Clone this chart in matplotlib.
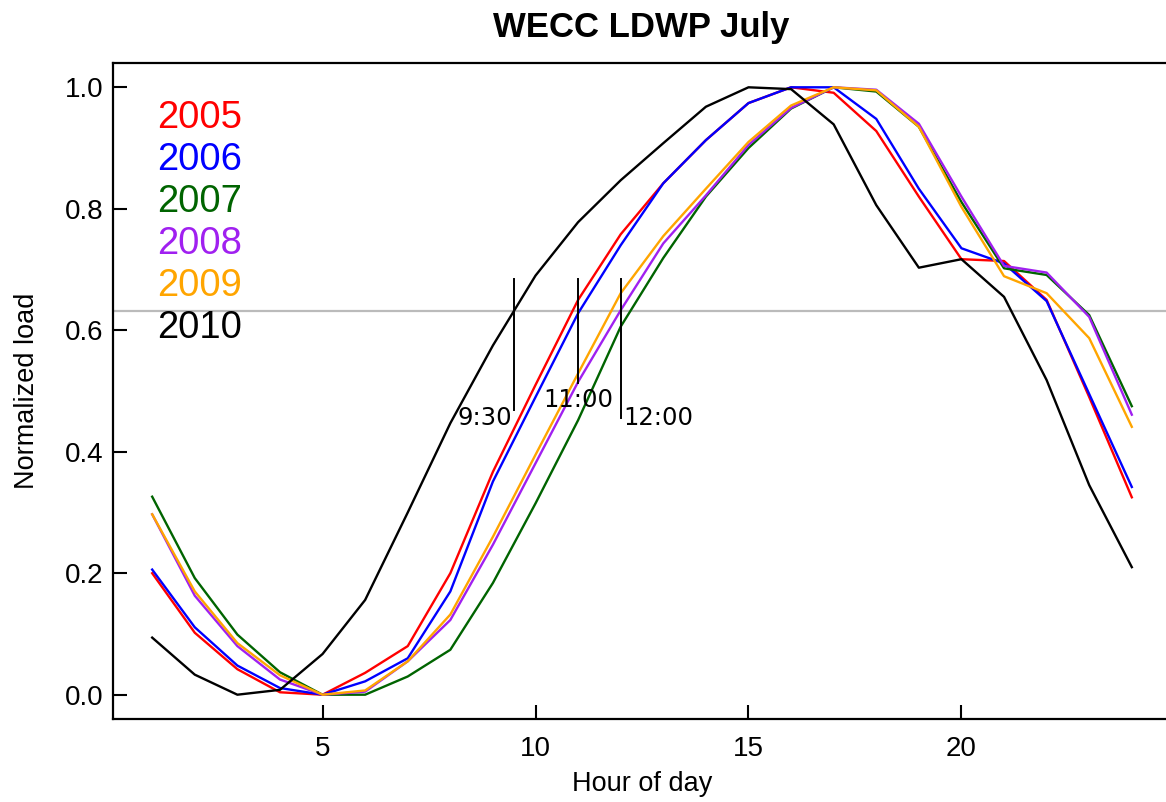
import numpy as np
import matplotlib
matplotlib.use('Agg')
import matplotlib.pyplot as plt

plt.rcParams['font.family'] = ['Liberation Sans', 'DejaVu Sans']

# Horas del dia
horas = np.arange(1, 25)

# Carga normalizada por año
carga_2005 = [0.200, 0.102, 0.042, 0.004, 0.000, 0.036, 0.080, 0.200, 0.367, 0.510, 0.650, 0.758,
              0.842, 0.913, 0.974, 1.000, 0.991, 0.928, 0.820, 0.717, 0.714, 0.650, 0.490, 0.325]
carga_2006 = [0.206, 0.111, 0.048, 0.011, 0.000, 0.022, 0.060, 0.170, 0.351, 0.490, 0.628, 0.740,
              0.842, 0.913, 0.974, 1.000, 1.000, 0.948, 0.833, 0.735, 0.710, 0.648, 0.495, 0.342]
carga_2007 = [0.326, 0.192, 0.099, 0.037, 0.000, 0.000, 0.030, 0.074, 0.184, 0.315, 0.452, 0.606,
              0.719, 0.820, 0.900, 0.965, 1.000, 0.993, 0.935, 0.811, 0.702, 0.691, 0.625, 0.475]
carga_2008 = [0.297, 0.163, 0.080, 0.025, 0.000, 0.005, 0.055, 0.123, 0.247, 0.381, 0.515, 0.633,
              0.743, 0.822, 0.905, 0.966, 1.000, 0.996, 0.940, 0.820, 0.706, 0.695, 0.622, 0.461]
carga_2009 = [0.297, 0.170, 0.085, 0.032, 0.000, 0.007, 0.055, 0.132, 0.260, 0.395, 0.529, 0.661,
              0.755, 0.833, 0.910, 0.970, 1.000, 0.995, 0.935, 0.803, 0.689, 0.661, 0.587, 0.441]
carga_2010 = [0.094, 0.033, 0.000, 0.008, 0.067, 0.156, 0.300, 0.447, 0.575, 0.690, 0.778, 0.847,
              0.908, 0.968, 1.000, 0.997, 0.939, 0.806, 0.703, 0.717, 0.655, 0.518, 0.345, 0.210]

anios = ['2005', '2006', '2007', '2008', '2009', '2010']
series = [carga_2005, carga_2006, carga_2007, carga_2008, carga_2009, carga_2010]
colores = ['#ff0000', '#0000ff', '#006400', '#a020f0', '#ffa500', '#000000']

# Umbral 1 - 1/e y marcas de hora
umbral = 1 - np.exp(-1)
marcas_x = [9.5, 11, 12]
marcas_abajo = [0.469, 0.513, 0.455]
marca_arriba = 0.684
etiquetas = ['9:30', '11:00', '12:00']

fig = plt.figure(figsize=(11.66, 8.02), dpi=100)
ax = fig.add_axes([113 / 1166, 83 / 802, 1058 / 1166, 656 / 802])

ax.axhline(umbral, color='#bbbbbb', lw=1.6, zorder=1)

for anio, s, c in zip(anios, series, colores):
    ax.plot(horas, s, color=c, lw=1.7, zorder=2)

for x0, y0 in zip(marcas_x, marcas_abajo):
    ax.plot([x0, x0], [y0, marca_arriba], color='black', lw=1.4, zorder=3)

ax.text(9.45, 0.456, etiquetas[0], ha='right', va='center', fontsize=17.5, family='DejaVu Sans')
ax.text(11.0, 0.485, etiquetas[1], ha='center', va='center', fontsize=17.5, family='DejaVu Sans')
ax.text(12.05, 0.456, etiquetas[2], ha='left', va='center', fontsize=17.5, family='DejaVu Sans')

# Leyenda como texto de colores
for i, (anio, c) in enumerate(zip(anios, colores)):
    ax.text(0.042, 0.916 - i * 0.064, anio, color=c, fontsize=27.5,
            ha='left', va='center', transform=ax.transAxes)

ax.set_xlim(0.08, 24.92)
ax.set_ylim(-0.04, 1.04)
ax.set_xticks([5, 10, 15, 20])
ax.set_yticks([0.0, 0.2, 0.4, 0.6, 0.8, 1.0])
ax.set_yticklabels(['0.0', '0.2', '0.4', '0.6', '0.8', '1.0'])
ax.tick_params(direction='in', length=10, width=1.5, labelsize=20, pad=7)
ax.tick_params(axis='x', pad=12)
ax.spines['right'].set_visible(False)
for lado in ['left', 'top', 'bottom']:
    ax.spines[lado].set_linewidth(1.6)

ax.set_xlabel('Hour of day', fontsize=19.5, labelpad=7)
ax.set_ylabel('Normalized load', fontsize=19.5, labelpad=18)
fig.text(641 / 1166, 1 - 27 / 802, 'WECC LDWP July', ha='center', va='center',
         fontsize=25, fontweight='bold')

plt.savefig('out.png', dpi=100)
